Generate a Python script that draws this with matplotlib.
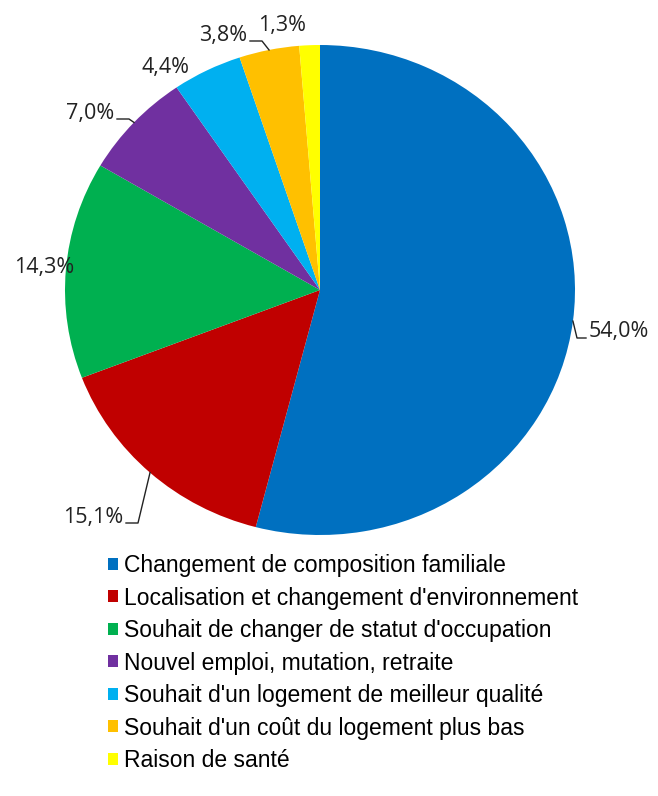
import matplotlib.pyplot as plt
import numpy as np

categories = ["Changement de composition familiale",
              "Localisation et changement d'environnement",
              "Souhait de changer de statut d'occupation",
              "Nouvel emploi, mutation, retraite",
              "Souhait d'un logement de meilleur qualité",
              "Souhait d'un coût du logement plus bas",
              "Raison de santé"]
values = [54.0, 15.1, 14.3, 7.0, 4.4, 3.8, 1.3]
labels = ["54,0%", "15,1%", "14,3%", "7,0%", "4,4%", "3,8%", "1,3%"]
colors = ["#0070C0", "#C00000", "#00B050", "#7030A0", "#00B0F0", "#FFC000", "#FFFF00"]

W, H = 658, 796
fig = plt.figure(figsize=(W / 100, H / 100), dpi=100)

# pie area in pixels (slightly wider than tall, like the source)
left, right, top, bottom = 65, 575, 45, 535
ax = fig.add_axes([left / W, 1 - bottom / H, (right - left) / W, (bottom - top) / H])
wedges, _ = ax.pie(values, colors=colors, startangle=90, counterclock=False,
                   radius=1, wedgeprops=dict(linewidth=0))
ax.set_aspect('auto')
ax.set_xlim(-1, 1)
ax.set_ylim(-1, 1)
ax.axis('off')

# overlay axes in pixel coordinates for labels
ov = fig.add_axes([0, 0, 1, 1])
ov.set_xlim(0, W)
ov.set_ylim(H, 0)
ov.axis('off')

cx, cy = (left + right) / 2, (top + bottom) / 2
rx, ry = (right - left) / 2, (bottom - top) / 2

# label text anchor (pixels), alignment, and whether a leader line is drawn
label_pos = [(589, 332, 'left', True),
             (123, 517, 'right', True),
             (74, 268, 'right', False),
             (114, 113, 'right', True),
             (190, 68, 'right', False),
             (247, 35, 'right', True),
             (258, 25, 'left', False)]

lab_font = dict(family=['Open Sans', 'DejaVu Sans'], fontsize=15.5, color='#222222')
for w, lab, (tx, ty, ha, lead) in zip(wedges, labels, label_pos):
    mid = np.deg2rad((w.theta1 + w.theta2) / 2)
    ex, ey = cx + rx * np.cos(mid), cy - ry * np.sin(mid)
    ov.text(tx, ty, lab, ha=ha, va='center', **lab_font)
    if lead:
        hx = tx - 3 if ha == 'left' else tx + 3
        kx = hx - 9 if ha == 'left' else hx + 12
        ov.plot([ex, kx, hx], [ey, ty + 6, ty + 6], color='#222222', lw=1.0)

fig.legend(wedges, categories, loc='upper left', bbox_to_anchor=(108 / W, 1 - 554 / H),
           frameon=False, prop=dict(family='Liberation Sans', size=16.5),
           handlelength=0.44, handleheight=0.44, handletextpad=0.28,
           labelspacing=0.415, borderaxespad=0, borderpad=0)

fig.savefig("out.png", dpi=100, facecolor='white')
